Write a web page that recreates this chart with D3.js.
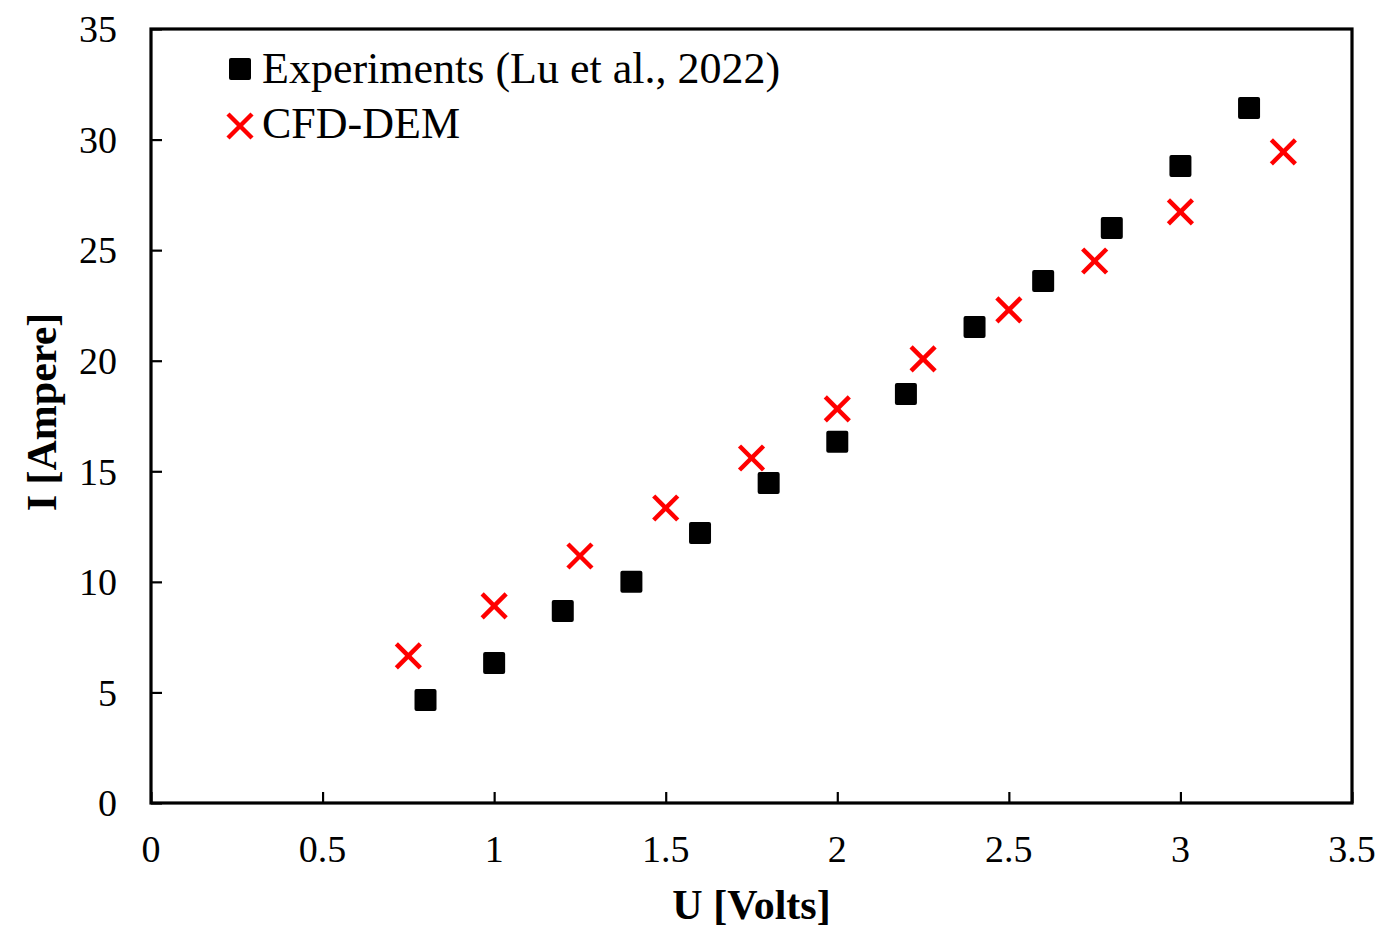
<!DOCTYPE html>
<html lang="en">
<head>
<meta charset="UTF-8">
<title>I-U curve</title>
<style>
  body { margin: 0; background: #fff; }
  text { font-family: "Liberation Serif", "Times New Roman", serif; }
</style>
</head>
<body>
<svg width="1382" height="929" id="svg"></svg>
<script src="https://d3js.org/d3.v7.min.js"></script>
<script>
  // experiments (Lu et al., 2022)
  const expU = [0.8, 1.0, 1.2, 1.4, 1.6, 1.8, 2.0, 2.2, 2.4, 2.6, 2.8, 3.0, 3.2]
  const expI = [4.66, 6.33, 8.68, 10.0, 12.21, 14.47, 16.33, 18.5, 21.53, 23.61, 26.0, 28.81, 31.43]
  // CFD-DEM
  const cfdU = [0.75, 1.0, 1.25, 1.5, 1.75, 2.0, 2.25, 2.5, 2.75, 3.0, 3.3]
  const cfdI = [6.65, 8.91, 11.17, 13.34, 15.6, 17.82, 20.08, 22.3, 24.51, 26.73, 29.44]

  const xTicks = [0, 0.5, 1, 1.5, 2, 2.5, 3, 3.5]
  const yTicks = [0, 5, 10, 15, 20, 25, 30, 35]

  const padding = { top: 29, bottom: 126, left: 151, right: 30 }
  const svg = d3.select("svg#svg")
  const width = +svg.attr("width")
  const height = +svg.attr("height")
  const innerWidth = width - padding.left - padding.right
  const innerHeight = height - padding.top - padding.bottom

  const xScale = d3.scaleLinear().domain([0, 3.5]).range([0, innerWidth])
  const yScale = d3.scaleLinear().domain([0, 35]).range([innerHeight, 0])

  const g = svg.append("g").attr("transform", `translate(${padding.left},${padding.top})`)

  // inward ticks
  const xAxis = d3.axisTop(xScale).tickValues(xTicks).tickSize(11).tickFormat("")
  const yAxis = d3.axisRight(yScale).tickValues(yTicks).tickSize(11).tickFormat("")
  g.append("g").attr("transform", `translate(0,${innerHeight})`).call(xAxis)
    .call(a => a.select(".domain").remove())
    .selectAll("line").attr("stroke", "#000").attr("stroke-width", 2.2)
  g.append("g").call(yAxis)
    .call(a => a.select(".domain").remove())
    .selectAll("line").attr("stroke", "#000").attr("stroke-width", 2.2)

  // tick labels
  g.selectAll("text.xlab").data(xTicks).enter().append("text")
    .attr("class", "xlab")
    .attr("x", d => xScale(d))
    .attr("y", innerHeight + 59)
    .attr("text-anchor", "middle")
    .attr("font-size", 38)
    .text(d => d)
  g.selectAll("text.ylab").data(yTicks).enter().append("text")
    .attr("class", "ylab")
    .attr("x", -34)
    .attr("y", d => yScale(d))
    .attr("dy", "0.35em")
    .attr("text-anchor", "end")
    .attr("font-size", 38)
    .text(d => d)

  // frame
  g.append("rect")
    .attr("width", innerWidth).attr("height", innerHeight)
    .attr("fill", "none").attr("stroke", "#000").attr("stroke-width", 3.2)

  // axis titles
  svg.append("text")
    .attr("x", padding.left + innerWidth / 2)
    .attr("y", 919)
    .attr("text-anchor", "middle")
    .attr("font-size", 42).attr("font-weight", "bold")
    .text("U [Volts]")
  svg.append("text")
    .attr("transform", `translate(56,${padding.top + innerHeight / 2 - 4}) rotate(-90)`)
    .attr("text-anchor", "middle")
    .attr("font-size", 42).attr("font-weight", "bold")
    .text("I [Ampere]")

  const sq = 22
  const cr = 12

  const expData = expU.map((u, i) => ({ u: u, i: expI[i] }))
  const cfdData = cfdU.map((u, i) => ({ u: u, i: cfdI[i] }))

  g.selectAll("rect.exp").data(expData).enter().append("rect")
    .attr("class", "exp")
    .attr("x", d => xScale(d.u) - sq / 2)
    .attr("y", d => yScale(d.i) - sq / 2)
    .attr("width", sq).attr("height", sq)
    .attr("rx", 2)
    .attr("fill", "#000")

  const cross = (sel) => {
    sel.append("line").attr("x1", -cr).attr("y1", -cr).attr("x2", cr).attr("y2", cr)
    sel.append("line").attr("x1", -cr).attr("y1", cr).attr("x2", cr).attr("y2", -cr)
    sel.selectAll("line").attr("stroke", "#ff0000").attr("stroke-width", 4.5)
  }
  g.selectAll("g.cfd").data(cfdData).enter().append("g")
    .attr("class", "cfd")
    .attr("transform", d => `translate(${xScale(d.u)},${yScale(d.i)})`)
    .call(cross)

  // legend
  const leg = svg.append("g")
  leg.append("rect").attr("x", 240 - sq / 2).attr("y", 69 - sq / 2)
    .attr("width", sq).attr("height", sq).attr("rx", 2).attr("fill", "#000")
  leg.append("text").attr("x", 262).attr("y", 83).attr("font-size", 44)
    .text("Experiments (Lu et al., 2022)")
  leg.append("g").attr("transform", "translate(240,126)").call(cross)
  leg.append("text").attr("x", 262).attr("y", 138).attr("font-size", 44)
    .text("CFD-DEM")
</script>
</body>
</html>
